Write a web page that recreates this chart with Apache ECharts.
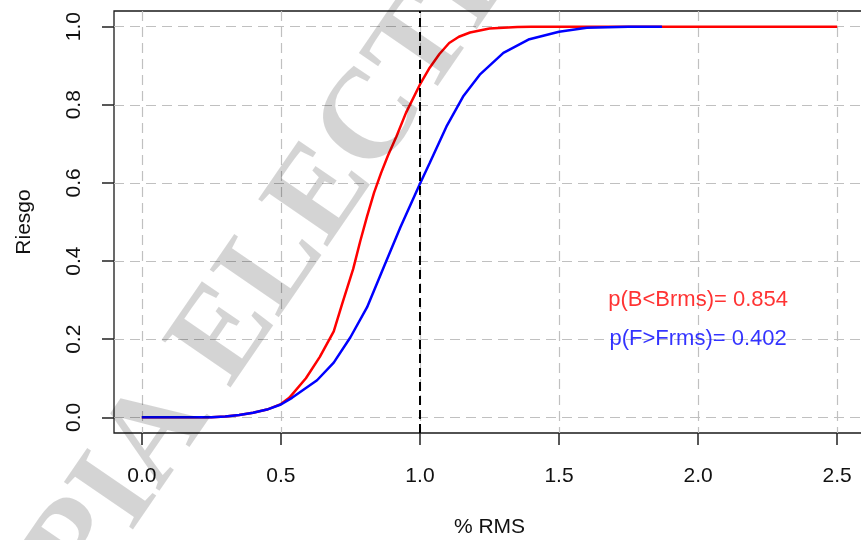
<!DOCTYPE html>
<html>
<head>
<meta charset="utf-8">
<script src="https://cdn.jsdelivr.net/npm/echarts@6/dist/echarts.min.js"></script>
<style>html,body{margin:0;padding:0;background:#fff;}#c{width:861px;height:540px;}</style>
</head>
<body>
<div id="c"></div>
<script>
// ---- data ----
const xB = [0.0, 0.25, 0.3, 0.35, 0.4, 0.45, 0.5, 0.53, 0.59, 0.64, 0.69, 0.72, 0.76, 0.785, 0.81, 0.835, 0.86, 0.885, 0.915, 0.95, 1.0, 1.035, 1.07, 1.105, 1.14, 1.18, 1.25, 1.35, 1.4, 2.5];
const yB = [0, 0, 0.002, 0.006, 0.012, 0.02, 0.034, 0.05, 0.1, 0.155, 0.22, 0.29, 0.38, 0.45, 0.515, 0.575, 0.625, 0.67, 0.718, 0.78, 0.852, 0.895, 0.93, 0.958, 0.974, 0.985, 0.995, 0.999, 1.0, 1.0];
const xF = [0.0, 0.25, 0.3, 0.35, 0.4, 0.45, 0.5, 0.54, 0.63, 0.69, 0.75, 0.81, 0.87, 0.93, 1.0, 1.035, 1.095, 1.155, 1.215, 1.3, 1.39, 1.5, 1.6, 1.75, 1.87];
const yF = [0, 0, 0.002, 0.006, 0.012, 0.02, 0.033, 0.05, 0.095, 0.14, 0.205, 0.282, 0.385, 0.487, 0.598, 0.651, 0.744, 0.821, 0.877, 0.933, 0.967, 0.987, 0.997, 1.0, 1.0];
const xTicks = [0, 0.5, 1.0, 1.5, 2.0, 2.5];
const yTicks = [0, 0.2, 0.4, 0.6, 0.8, 1.0];
const refX = [1.0];
const annotX = [2.0, 2.0];
const annotY = [0.3, 0.2];
const annotText = ['p(B<Brms)= 0.854', 'p(F>Frms)= 0.402'];
const xName = '% RMS';
const yName = 'Riesgo';
const watermark = 'COPIA ELECTRONICA';

// ---- chart ----
const chart = echarts.init(document.getElementById('c'), null, {renderer: 'canvas'});
const FONT = 'Liberation Sans';
const gridDash = {color: '#c0c0c0', width: 1.2, type: [10, 6]};
const tickStyle = {color: '#222', width: 1.5};

function zip(xs, ys) { return xs.map((x, i) => [x, ys[i]]); }

chart.setOption({
  animation: false,
  backgroundColor: '#ffffff',
  grid: {left: 114, right: -4, top: 11, bottom: 107, show: true, borderColor: '#1a1a1a', borderWidth: 1.3,
         containLabel: false, outerBoundsMode: 'none'},
  xAxis: {
    type: 'value', min: -0.1, max: 2.6,
    name: xName, nameLocation: 'middle', nameGap: 84,
    nameTextStyle: {fontFamily: FONT, fontSize: 21, color: '#111'},
    axisLine: {show: false, onZero: false},
    axisTick: {show: true, customValues: xTicks, length: 12, lineStyle: tickStyle},
    axisLabel: {customValues: xTicks, formatter: v => v.toFixed(1), fontFamily: FONT, fontSize: 21, color: '#111', margin: 33},
    splitLine: {show: true, lineStyle: gridDash}
  },
  yAxis: {
    type: 'value', min: -0.04, max: 1.04,
    name: yName, nameLocation: 'middle', nameGap: 79, nameRotate: 90,
    nameTextStyle: {fontFamily: FONT, fontSize: 21, color: '#111'},
    axisLine: {show: false, onZero: false},
    axisTick: {show: true, customValues: yTicks, length: 12, lineStyle: tickStyle},
    axisLabel: {customValues: yTicks, formatter: v => v.toFixed(1), rotate: 90, fontFamily: FONT, fontSize: 21, color: '#111', margin: 29},
    splitLine: {show: true, lineStyle: gridDash}
  },
  series: [
    {
      type: 'line', data: zip(xB, yB), showSymbol: false, symbol: 'none',
      lineStyle: {color: '#ff0000', width: 2.5}, z: 3,
      markLine: {
        silent: true, symbol: 'none', label: {show: false},
        lineStyle: {color: '#000', width: 2, type: [9, 5]},
        data: refX.map(v => ({xAxis: v}))
      }
    },
    {
      type: 'line', data: zip(xF, yF), showSymbol: false, symbol: 'none',
      lineStyle: {color: '#0000ff', width: 2.5}, z: 4
    },
    {
      type: 'scatter', symbolSize: 0, z: 5,
      data: annotX.map((x, i) => ({value: [x, annotY[i]], name: annotText[i],
        label: {color: i === 0 ? '#ff0000' : '#0000ff'}})),
      label: {show: true, position: 'inside', formatter: p => p.name, fontFamily: FONT, fontSize: 22}
    }
  ],
  graphic: [{
    type: 'text', x: 346, y: 161, rotation: 55.5 * Math.PI / 180, z: 100, silent: true,
    style: {text: watermark, font: 'bold 128px "Liberation Serif"', fill: 'rgba(0,0,0,0.17)',
            textAlign: 'center', textVerticalAlign: 'middle', align: 'center', verticalAlign: 'middle'}
  }]
});
</script>
</body>
</html>
